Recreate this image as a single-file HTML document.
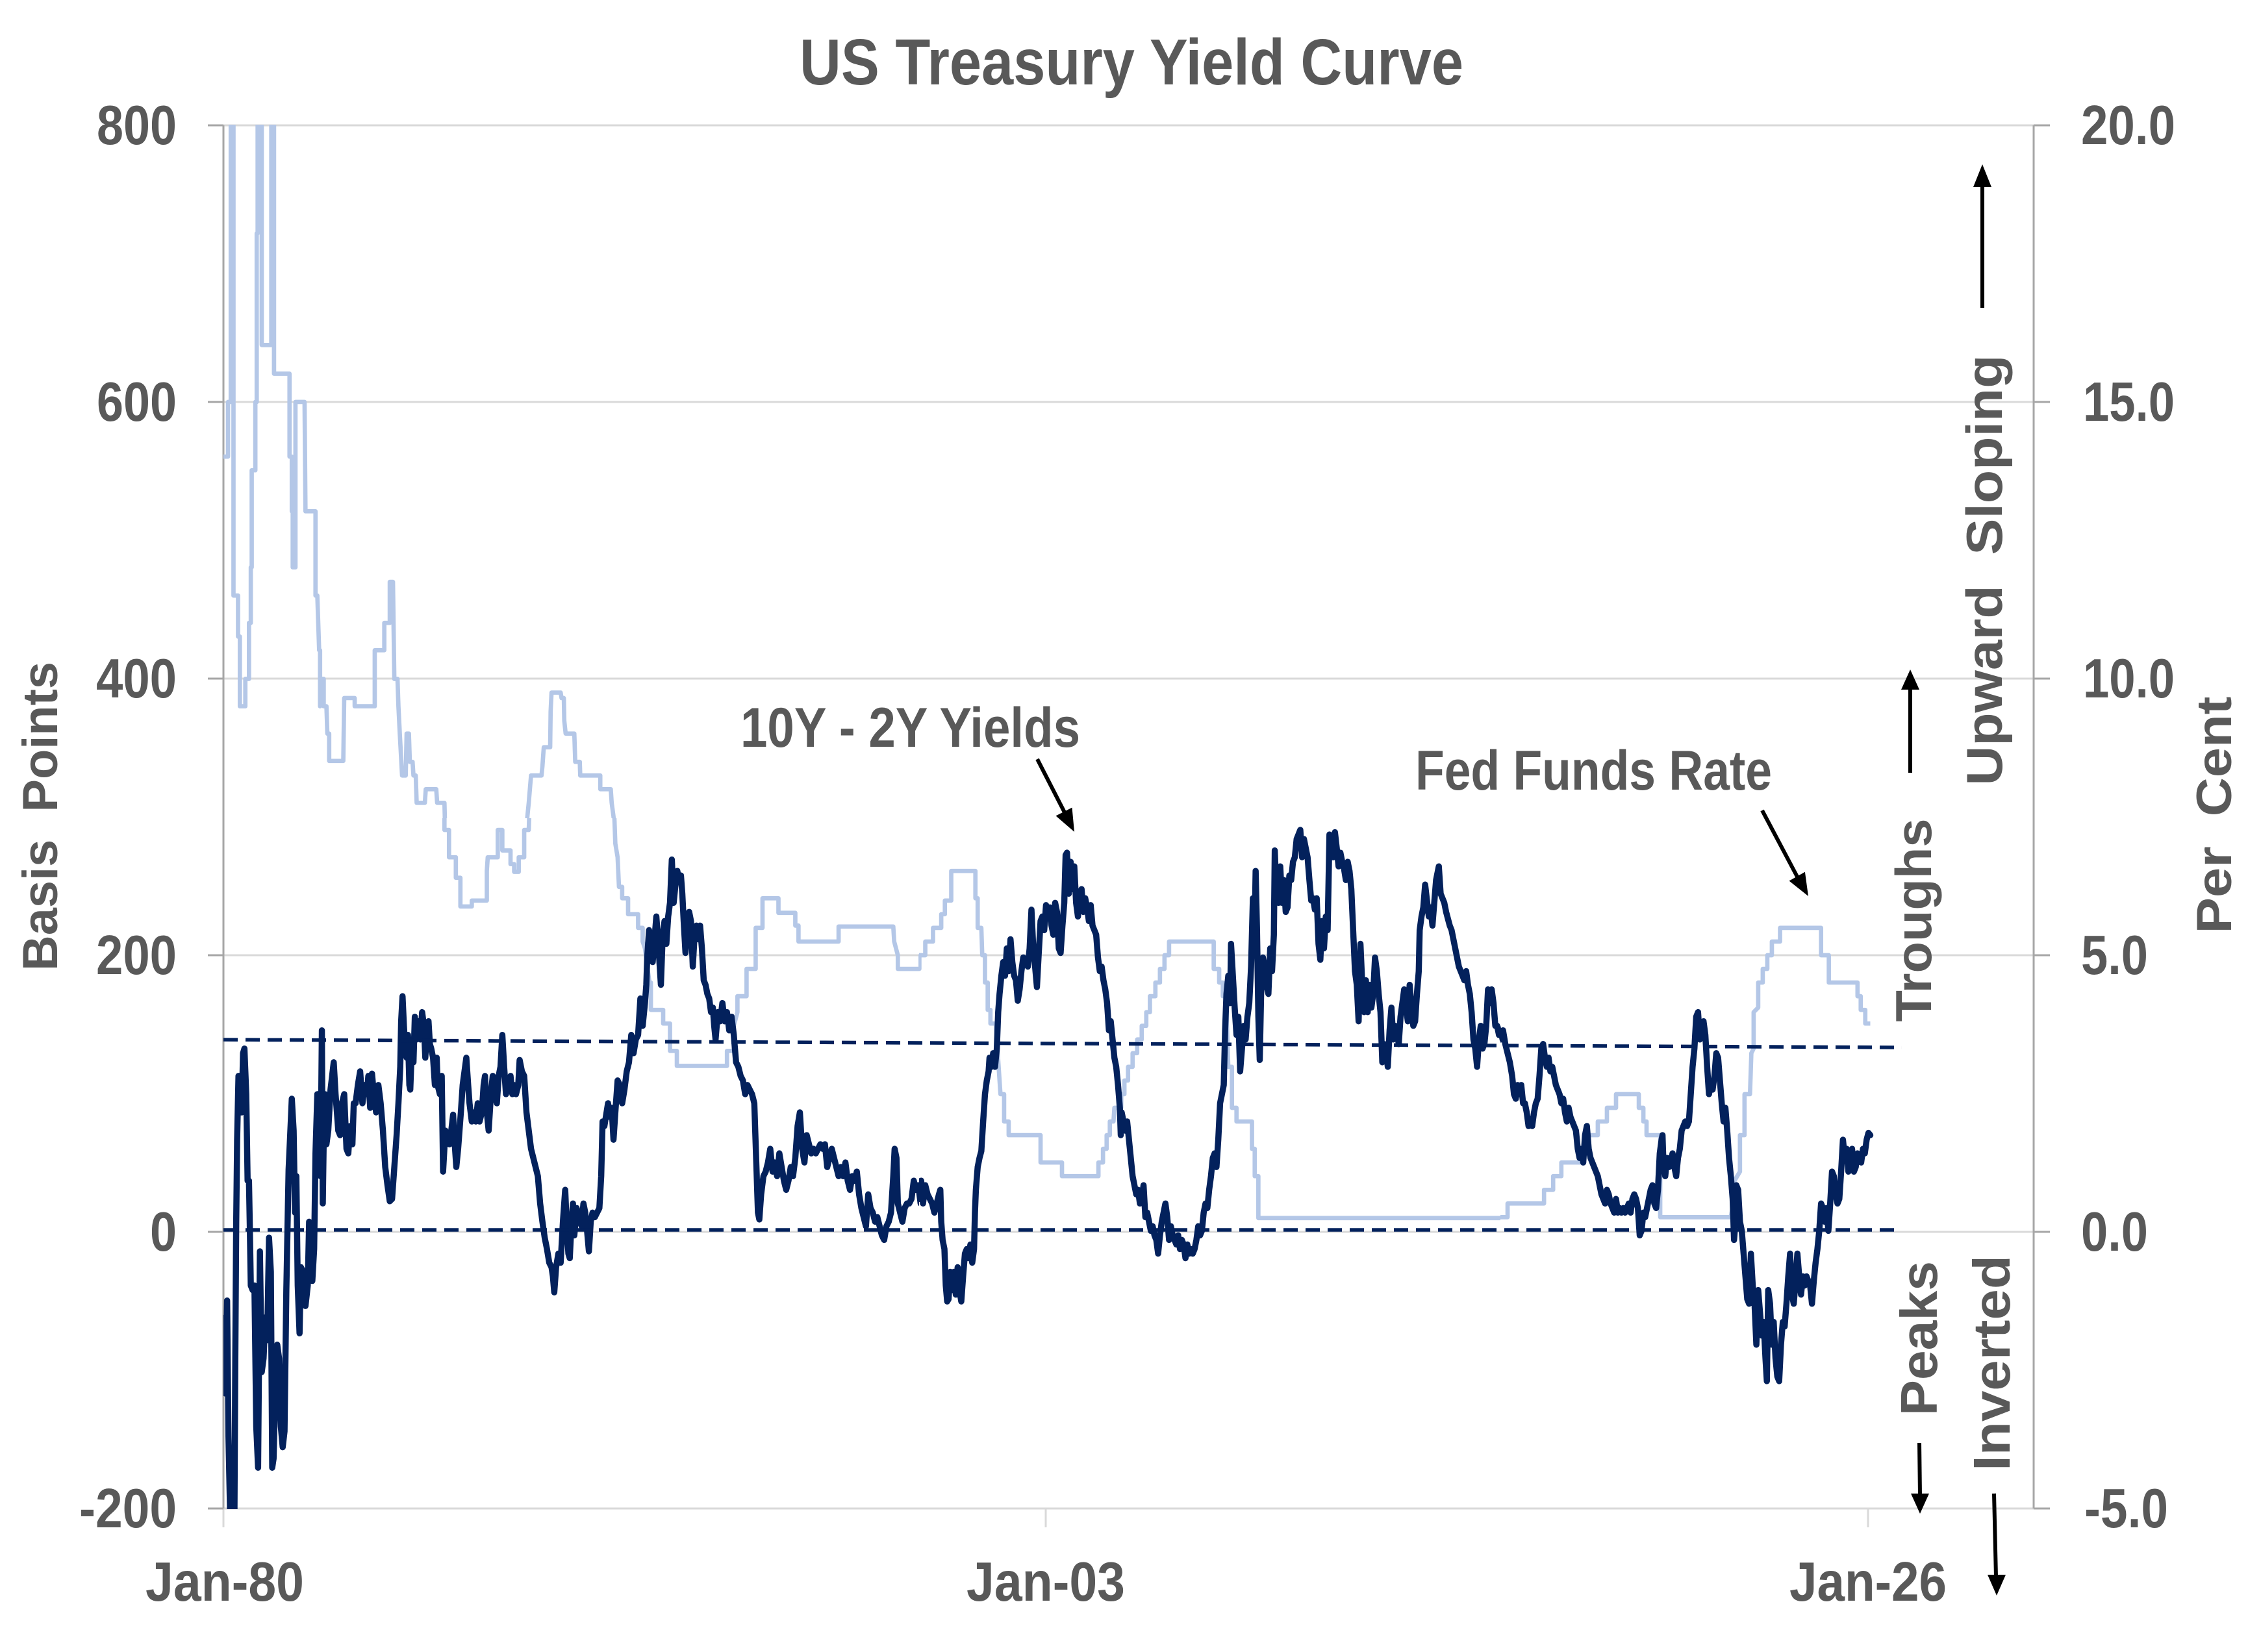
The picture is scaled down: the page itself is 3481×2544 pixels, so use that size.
<!DOCTYPE html>
<html>
<head>
<meta charset="utf-8">
<style>
  html,body{margin:0;padding:0;background:#ffffff;}
  svg{display:block;}
  text{font-family:"Liberation Sans",Arial,sans-serif;font-weight:bold;fill:#595959;}
  .pre{white-space:pre;}
</style>
</head>
<body>
<svg width="3481" height="2544" viewBox="0 0 3481 2544" xmlns="http://www.w3.org/2000/svg">
  <defs>
    <clipPath id="plot"><rect x="344" y="192" width="2790" height="2132"/></clipPath>
    <clipPath id="cA"><rect x="0" y="0" width="1415" height="2544"/></clipPath>
    <clipPath id="cB"><rect x="1415" y="0" width="895" height="2544"/></clipPath>
    <clipPath id="cC"><rect x="2310" y="0" width="1171" height="2544"/></clipPath>
    <clipPath id="cTop"><rect x="0" y="0" width="1430" height="1260"/></clipPath>
    <clipPath id="cBotA"><rect x="0" y="1260" width="1415" height="1284"/></clipPath>
  </defs>

  <rect x="0" y="0" width="3481" height="2544" fill="#ffffff"/>

  <!-- Title -->
  <text x="1231" y="130" font-size="100" textLength="1022" lengthAdjust="spacingAndGlyphs">US Treasury Yield Curve</text>

  <!-- Gridlines -->
  <g stroke="#d9d9d9" stroke-width="3">
    <line x1="344" y1="193" x2="3131" y2="193"/>
    <line x1="344" y1="619" x2="3131" y2="619"/>
    <line x1="344" y1="1045" x2="3131" y2="1045"/>
    <line x1="344" y1="1471" x2="3131" y2="1471"/>
    <line x1="344" y1="1897" x2="3131" y2="1897"/>
    <line x1="344" y1="2323" x2="3131" y2="2323"/>
    <line x1="344" y1="2323" x2="344" y2="2352"/>
    <line x1="1610" y1="2323" x2="1610" y2="2352"/>
    <line x1="2876" y1="2323" x2="2876" y2="2352"/>
  </g>

  <!-- Axes -->
  <g stroke="#a6a6a6" stroke-width="3">
    <line x1="344" y1="193" x2="344" y2="2323"/>
    <line x1="3131" y1="193" x2="3131" y2="2323"/>
    <line x1="320" y1="193" x2="344" y2="193"/>
    <line x1="320" y1="619" x2="344" y2="619"/>
    <line x1="320" y1="1045" x2="344" y2="1045"/>
    <line x1="320" y1="1471" x2="344" y2="1471"/>
    <line x1="320" y1="1897" x2="344" y2="1897"/>
    <line x1="320" y1="2323" x2="344" y2="2323"/>
    <line x1="3131" y1="193" x2="3156" y2="193"/>
    <line x1="3131" y1="619" x2="3156" y2="619"/>
    <line x1="3131" y1="1045" x2="3156" y2="1045"/>
    <line x1="3131" y1="1471" x2="3156" y2="1471"/>
    <line x1="3131" y1="1897" x2="3156" y2="1897"/>
    <line x1="3131" y1="2323" x2="3156" y2="2323"/>
  </g>

  <!-- Left tick labels -->
  <g font-size="85" text-anchor="end">
    <text x="272" y="222" textLength="123" lengthAdjust="spacingAndGlyphs">800</text>
    <text x="272" y="648" textLength="123" lengthAdjust="spacingAndGlyphs">600</text>
    <text x="272" y="1074" textLength="124" lengthAdjust="spacingAndGlyphs">400</text>
    <text x="272" y="1500" textLength="124" lengthAdjust="spacingAndGlyphs">200</text>
    <text x="272" y="1926" textLength="41" lengthAdjust="spacingAndGlyphs">0</text>
    <text x="272" y="2352" textLength="150" lengthAdjust="spacingAndGlyphs">-200</text>
  </g>

  <!-- Right tick labels -->
  <g font-size="85">
    <text x="3204" y="222" textLength="145" lengthAdjust="spacingAndGlyphs">20.0</text>
    <text x="3207" y="648" textLength="141" lengthAdjust="spacingAndGlyphs">15.0</text>
    <text x="3207" y="1074" textLength="141" lengthAdjust="spacingAndGlyphs">10.0</text>
    <text x="3204" y="1500" textLength="103" lengthAdjust="spacingAndGlyphs">5.0</text>
    <text x="3204" y="1926" textLength="103" lengthAdjust="spacingAndGlyphs">0.0</text>
    <text x="3209" y="2352" textLength="129" lengthAdjust="spacingAndGlyphs">-5.0</text>
  </g>

  <!-- X labels -->
  <g font-size="85" text-anchor="middle">
    <text x="346" y="2465" textLength="244" lengthAdjust="spacingAndGlyphs">Jan-80</text>
    <text x="1610" y="2465" textLength="244" lengthAdjust="spacingAndGlyphs">Jan-03</text>
    <text x="2876" y="2465" textLength="242" lengthAdjust="spacingAndGlyphs">Jan-26</text>
  </g>

  <!-- Axis titles -->
  <text class="pre" font-size="76" text-anchor="middle" transform="translate(88,1257) rotate(-90)" textLength="476" lengthAdjust="spacingAndGlyphs">Basis  Points</text>
  <text class="pre" font-size="76" text-anchor="middle" transform="translate(3435,1255) rotate(-90)" textLength="365" lengthAdjust="spacingAndGlyphs">Per  Cent</text>

  <!-- Right side annotations -->
  <text class="pre" font-size="78" text-anchor="middle" transform="translate(3082,878) rotate(-90)" textLength="663" lengthAdjust="spacingAndGlyphs">Upward  Sloping</text>
  <text font-size="78" text-anchor="middle" transform="translate(2973,1417) rotate(-90)" textLength="313" lengthAdjust="spacingAndGlyphs">Troughs</text>
  <text font-size="80" text-anchor="middle" transform="translate(2982,2061) rotate(-90)" textLength="238" lengthAdjust="spacingAndGlyphs">Peaks</text>
  <text font-size="80" text-anchor="middle" transform="translate(3094,2099) rotate(-90)" textLength="332" lengthAdjust="spacingAndGlyphs">Inverted</text>

  <!-- Series annotations -->
  <text font-size="86" x="1140" y="1150" textLength="523" lengthAdjust="spacingAndGlyphs">10Y - 2Y Yields</text>
  <text font-size="86" x="2179" y="1216" textLength="549" lengthAdjust="spacingAndGlyphs">Fed Funds Rate</text>

  <!-- Arrows -->
  <g stroke="#000" stroke-width="6" fill="none">
    <line x1="3052" y1="474" x2="3052" y2="284"/>
    <line x1="2941" y1="1190" x2="2941" y2="1058"/>
    <line x1="2955" y1="2222" x2="2956" y2="2303"/>
    <line x1="3070" y1="2300" x2="3073" y2="2428"/>
    <line x1="1597" y1="1169" x2="1640" y2="1253"/>
    <line x1="2713" y1="1248" x2="2768" y2="1352"/>
  </g>
  <g fill="#000">
    <polygon points="3038,288 3066,288 3052,253"/>
    <polygon points="2927,1062 2955,1062 2941,1031"/>
    <polygon points="2942,2300 2970,2300 2956,2331"/>
    <polygon points="3060,2425 3088,2425 3074,2457"/>
    <polygon points="1625.5,1256.4 1650.5,1243.6 1654,1281"/>
    <polygon points="2754.5,1356.5 2778.9,1342.7 2784,1380"/>
  </g>

  <!-- Series -->
  <g clip-path="url(#plot)">
    <!-- Fed Funds Rate (light blue) -->
    <g fill="none" stroke="#b4c7e7" stroke-width="9.5" stroke-linejoin="round">
      <g clip-path="url(#cTop)">
        <g transform="translate(330,170) scale(0.70153)">
          <polyline points="20,760 30,760 30,640 36,640 36,20 42,20 42,1065 52,1065 52,1155 56,1155 56,1308 68,1308 68,1248 76,1248 76,1125 80,1125 80,1003 82,1003 82,790 90,790 90,640 93,640 93,270 95,270 95,20 104,20 104,515 125,515 125,20 131,20 131,578 165,578 165,760 170,760 170,880 172,880 172,1003 178,1003 178,640 198,640 200,880 222,880 222,1065 226,1065 228,1125 230,1185 232,1185 232,1308 235,1248 240,1248 240,1308 246,1308 248,1368 252,1368 252,1428 283,1428 285,1290 308,1290 308,1308 352,1308 352,1185 373,1185 373,1125 385,1125 385,1035 392,1035 395,1248 402,1248 404,1308 407,1368 412,1460 420,1460 422,1368 427,1368 429,1430 435,1430 437,1460 442,1460 444,1520 462,1520 464,1490 487,1490 489,1520 505,1520 507,1600"/>
          <polyline points="683,1600 687,1550 690,1520 695,1460 718,1460 720,1440 723,1398 737,1398 738,1320 740,1278 760,1278 762,1290 767,1290 768,1340 771,1368 790,1368 792,1430 802,1430 803,1460 847,1460 847,1490 870,1490 872,1520 876,1550 880,1600"/>
        </g>
      </g>
      <g clip-path="url(#cBotA)">
        <g transform="translate(330,1250) scale(0.70153)">
          <polyline points="505,-20 505,40 515,40 515,100 530,100 530,145 540,145 540,208 565,208 565,195 598,195 598,130 600,100 622,100 622,40 632,40 632,85 650,85 650,115 658,115 658,132 668,132 668,100 680,100 680,40 690,40 692,-20"/>
          <polyline points="875,-20 878,15 880,70 885,100 888,165 895,165 895,190 908,190 908,225 930,225 930,255 940,255 940,285 945,300 950,340 955,375 958,375 958,435 985,435 985,465 1000,465 1000,525 1015,525 1015,558 1125,558 1125,525 1140,525 1140,470 1148,440 1148,405 1168,405 1168,345 1188,345 1188,255 1203,255 1203,190 1238,190 1238,222 1275,222 1275,250 1282,250 1282,285 1370,285 1370,252 1490,252 1492,285 1500,315 1500,345 1550,345 1550,315 1562,315 1562,285 1600,285"/>
        </g>
      </g>
      <g clip-path="url(#cB)">
        <g transform="translate(1400,1250) scale(0.70153)">
          <polyline points="0,345 22,345 22,315 35,315 35,285 52,285 52,255 70,255 70,225 78,225 78,195 92,195 92,130 145,130 145,190 150,190 150,255 158,255 160,315 166,315 166,375 172,375 172,435 178,435 178,465 190,465 192,500 196,560 200,620 208,620 208,680 218,680 218,710 288,710 288,770 335,770 335,800 415,800 415,770 425,770 425,740 433,740 433,710 440,710 440,680 448,680 450,650 465,650 465,620 472,620 472,590 480,590 480,560 490,560 490,530 500,530 500,500 510,500 510,470 520,470 520,440 528,440 528,405 540,405 540,375 550,375 550,345 560,345 560,315 570,315 570,285 668,285 668,345 680,345 680,375 688,375 688,405 695,405 697,470 700,560 708,560 708,650 718,650 718,680 752,680 752,740 758,740 758,800 766,800 766,892 1315,892 1315,862 1392,862 1392,830 1412,830 1412,800 1432,800 1432,770 1470,770 1470,740 1490,740 1490,710 1508,710 1508,680 1532,680 1532,650 1550,650 1550,620 1600,620"/>
        </g>
      </g>
      <g clip-path="url(#cC)">
        <g transform="translate(2300,1250) scale(0.70153)">
          <polyline points="-20,890 30,890 30,860 110,860 110,830 130,830 130,800 148,800 148,770 190,770 190,740 208,740 208,710 228,710 228,680 248,680 248,650 268,650 268,620 318,620 318,650 328,650 328,680 335,680 335,710 365,710 365,890 520,890 525,860 528,810 540,790 540,710 550,710 550,620 562,620 565,530 570,520 570,440 580,430 580,375 590,375 590,345 600,345 600,315 610,315 610,285 628,285 628,255 718,255 718,315 735,315 735,375 798,375 798,405 805,405 805,435 815,435 815,465 826,465"/>
        </g>
      </g>
    </g>

    <!-- 10Y - 2Y (navy) -->
    <g fill="none" stroke="#03215c" stroke-width="13.5" stroke-linejoin="round" stroke-linecap="round">
      <g clip-path="url(#cA)">
        <g transform="translate(330,1250) scale(0.70153)">
          <polyline points="24,1110 24,1277 28,1073 31,1371 35,1560 44,1560 46,1200 48,900 50,720 53,580 57,580 60,660 63,530 66,520 70,620 73,810 76,810 78,920 80,1040 84,1050 88,1040 92,1350 96,1440 100,965 104,1230 108,1200 112,1110 116,1160 120,935 124,1010 127,1440 130,1420 134,1260 138,1170 142,1200 146,1350 150,1395 154,1360 158,1050 163,785 166,720 170,630 174,700 177,880 180,800 183,1040 187,1145 190,1000 195,1010 200,1085 205,1040 208,900 212,930 215,1030 219,960 222,750 226,620 229,620 233,800 236,480 238,860 240,720 243,620 246,730 250,700 255,610 262,550 266,620 272,700 276,710 280,640 285,620 290,740 294,750 298,690 303,730 306,640 310,640 315,600 320,570 325,640 330,600 335,620 338,580 342,650 346,575 350,620 355,660 360,600 365,640 370,700 375,780 380,820 385,855 390,850 395,780 400,710 404,640 408,560 410,460 413,405 416,470 419,520 422,540 425,490 428,600 430,610 433,530 437,550 440,450 444,500 448,460 452,500 456,440 460,470 463,540 467,470 470,460 473,510 476,520 480,540 484,600 488,540 490,600 495,620 499,580 502,790 507,700 512,710 516,730 520,700 524,665 527,720 531,780 535,740 538,700 541,660 545,600 549,570 553,540 557,600 560,640 565,680 570,660 574,680 578,640 582,680 587,660 591,600 594,580 598,660 602,700 607,620 611,580 615,620 620,640 624,580 628,560 632,490 636,560 640,620 645,600 650,580 654,620 658,600 662,620 667,600 670,545 675,570 680,580 685,660 690,700 695,740 700,760 705,780 710,800 715,860 720,900 725,935 730,960 735,990 740,1000 743,1020 746,1055 750,1000 755,970 760,990 765,900 770,830 773,900 777,970 780,980 784,900 787,860 790,930 795,870 800,890 806,910 810,860 814,880 818,920 822,965 826,900 830,880 835,890 840,880 845,870 849,800 852,680 856,690 860,665 864,640 868,670 872,650 876,720 880,660 885,590 890,600 895,640 900,610 905,570 910,550 915,490 920,530 925,500 930,490 935,410 940,470 945,420 948,380 950,320 954,260 958,300 962,330 966,280 970,230 975,300 980,380 984,270 988,240 992,290 996,230 1000,200 1004,105 1008,200 1012,160 1016,130 1020,150 1024,140 1027,180 1030,240 1034,310 1038,260 1042,220 1046,240 1050,340 1054,270 1058,250 1062,280 1066,250 1070,300 1074,370 1078,380 1082,400 1086,410 1090,440 1094,430 1097,470 1100,500 1105,440 1110,460 1115,420 1120,460 1125,440 1130,480 1135,450 1140,490 1145,550 1150,560 1155,580 1160,590 1165,620 1170,600 1175,610 1180,620 1185,640 1190,790 1193,880 1196,895 1200,840 1205,800 1210,790 1215,770 1220,740 1225,790 1230,770 1235,800 1240,750 1245,780 1250,810 1255,830 1260,810 1265,780 1270,800 1275,760 1280,690 1285,660 1290,740 1295,770 1300,710 1305,730 1310,750 1315,740 1320,750 1325,740 1330,730 1335,740 1340,730 1345,780 1350,760 1355,740 1360,760 1365,780 1370,800 1375,780 1380,800 1385,770 1390,810 1395,830 1400,800 1405,810 1410,790 1415,840 1420,870 1425,890 1430,910 1435,840 1440,870 1445,880 1450,900 1455,890 1460,910 1465,930 1470,940 1475,910 1480,900 1485,880 1490,800 1493,740 1497,760 1500,860 1505,880 1510,900 1515,870 1520,860 1525,860 1530,850 1535,810 1540,830 1545,820 1550,860 1555,830 1560,810 1568,840"/>
        </g>
      </g>
      <g clip-path="url(#cB)">
        <g transform="translate(1400,1250) scale(0.70153)">
          <polyline points="0,860 5,840 10,800 14,860 18,810 22,850 26,810 30,860 35,820 40,840 45,850 50,860 55,880 60,860 65,840 68,830 70,900 73,940 77,960 80,1040 83,1075 86,1070 90,1010 94,1050 98,1010 102,1060 106,1000 110,1050 114,1075 118,1020 122,970 126,960 130,980 134,950 138,990 142,960 144,880 146,830 150,780 154,760 158,745 162,680 166,620 170,590 174,570 176,540 180,560 184,530 188,560 192,520 195,440 198,400 202,360 206,330 210,360 214,300 218,350 222,280 226,330 230,360 234,370 238,415 242,390 246,350 250,320 255,330 260,340 264,300 268,215 272,300 276,340 280,385 284,310 288,240 292,230 296,260 300,205 304,230 308,210 312,250 316,270 320,200 324,220 328,300 332,310 336,250 340,200 343,95 346,90 350,180 354,110 358,170 362,120 366,200 370,230 374,180 378,170 382,220 386,190 390,210 394,240 398,205 402,250 406,260 410,270 414,320 418,350 422,340 426,370 430,390 434,420 438,480 442,460 446,500 450,540 454,560 458,600 462,650 464,710 466,660 470,680 474,700 478,680 482,720 486,760 490,800 494,820 498,840 502,830 506,860 510,850 514,820 518,890 522,880 526,900 530,920 534,910 538,930 542,940 546,970 550,930 554,900 558,880 562,860 566,890 570,940 574,910 578,930 582,940 586,950 590,930 594,960 598,940 602,950 606,980 610,950 614,970 618,960 622,970 626,960 630,940 634,910 638,930 642,920 646,880 650,860 654,870 658,830 662,800 666,760 670,750 674,780 678,720 682,640 686,620 690,600 693,480 696,400 700,360 704,420 706,290 710,360 714,430 718,490 722,450 726,570 730,520 734,470 738,500 742,450 746,420 750,340 754,190 758,250 760,130 763,260 766,450 769,545 772,400 776,320 780,340 784,380 788,400 792,300 796,350 800,270 802,85 806,190 810,200 814,120 818,200 822,150 826,220 830,210 834,140 838,150 842,110 846,100 850,60 854,50 858,40 862,100 866,60 870,80 874,100 878,150 882,195 886,190 890,215 894,190 898,290 902,325 906,240 910,300 914,230 918,260 922,50 926,90 930,100 934,45 938,80 942,120 946,90 950,110 954,125 958,150 962,110 966,130 970,170 974,260 978,350 982,380 986,460 990,290 994,380 998,440 1002,370 1006,440 1010,380 1014,430 1018,400 1022,320 1026,350 1030,400 1034,440 1038,550 1042,510 1046,520 1050,560 1054,480 1058,430 1062,500 1066,470 1070,480 1074,510 1078,450 1082,420 1086,390 1090,430 1094,460 1098,380 1102,430 1106,470 1110,460 1114,400 1118,350 1120,260 1124,230 1128,210 1132,160 1136,195 1140,230 1144,210 1148,250 1152,200 1156,150 1160,130 1162,120 1166,180 1170,190 1174,200 1178,220 1182,235 1186,250 1190,260 1194,280 1198,300 1202,320 1206,340 1210,350 1214,360 1218,370 1222,350 1226,380 1230,400 1234,440 1238,500 1242,520 1246,560 1250,500 1254,470 1258,520 1262,510 1266,470 1270,390 1274,420 1278,390 1282,420 1286,470 1290,470 1294,490 1298,480 1302,500 1306,480 1310,520 1314,540 1318,560 1322,570 1326,600 1330,630 1334,620 1338,600 1342,610 1346,640 1350,620 1354,650 1358,670 1362,690 1366,660 1370,680 1374,660 1378,640 1382,620 1386,540 1390,520 1394,510 1398,540 1402,550 1406,540 1410,560 1414,580 1418,600 1422,620 1426,640 1430,630 1434,640 1438,660 1442,680 1446,650 1450,680 1454,670 1458,660 1462,690 1466,720 1470,760 1474,750 1478,720 1482,700 1486,730 1490,760 1494,780 1498,760 1502,790 1506,800 1510,810 1514,830 1518,830 1522,850 1526,860 1530,840 1534,820 1538,830 1542,850 1546,880 1550,870 1554,860 1558,870 1562,880 1568,870"/>
        </g>
      </g>
      <g clip-path="url(#cC)">
        <g transform="translate(2300,1250) scale(0.70153)">
          <polyline points="-10,420 0,380 5,460 10,480 15,500 20,480 25,510 30,530 35,550 40,580 44,620 48,630 52,600 56,620 60,600 64,640 68,640 72,660 76,690 80,680 84,690 88,660 92,640 96,630 100,580 104,520 108,510 112,540 116,560 120,540 124,570 128,560 132,580 136,600 140,610 144,620 148,640 152,630 156,660 160,680 164,650 168,670 172,680 176,690 180,700 184,740 188,760 192,740 196,770 200,710 204,690 208,740 212,760 216,770 220,780 224,790 228,800 232,820 236,840 240,850 244,860 248,830 252,840 256,860 260,870 264,880 268,850 272,880 276,870 280,880 284,870 288,880 292,870 296,860 300,880 304,850 308,840 312,850 316,870 320,930 324,920 328,880 332,890 336,870 340,850 344,830 348,820 352,860 356,870 360,830 364,750 368,720 370,710 372,770 376,800 380,760 384,780 388,770 392,750 396,780 400,800 404,760 408,740 412,700 416,690 420,680 424,690 428,680 432,620 436,560 440,520 444,450 448,440 452,500 456,470 460,460 464,490 468,560 472,620 476,600 480,610 484,580 488,530 492,540 496,590 500,640 504,680 508,650 512,700 516,760 520,800 524,850 527,940 530,900 532,820 536,830 540,900 544,920 548,970 552,1020 556,1070 560,1080 564,970 568,1040 572,1080 576,1170 580,1050 584,1100 588,1150 592,1120 596,1200 599,1250 602,1050 606,1080 610,1170 614,1120 618,1200 622,1240 626,1250 630,1170 634,1120 638,1130 642,1080 646,1020 650,970 654,1060 658,1080 662,1030 666,970 670,1020 674,1060 678,1020 682,1040 686,1020 690,1030 694,1040 698,1080 702,1030 706,990 710,960 714,920 718,860 722,870 726,900 730,870 734,920 738,860 742,790 746,800 750,840 754,860 758,850 762,790 766,720 770,760 774,740 778,790 782,760 786,740 790,790 794,780 798,750 802,760 806,770 810,740 814,750 818,720 822,705 826,710"/>
        </g>
      </g>
    </g>

    <!-- Dashed reference lines -->
    <g stroke="#03215c" stroke-width="5.5" stroke-dasharray="22 12" fill="none">
      <line x1="344" y1="1601" x2="2928" y2="1613"/>
      <line x1="344" y1="1894" x2="2928" y2="1894"/>
    </g>
  </g>
</svg>
</body>
</html>
